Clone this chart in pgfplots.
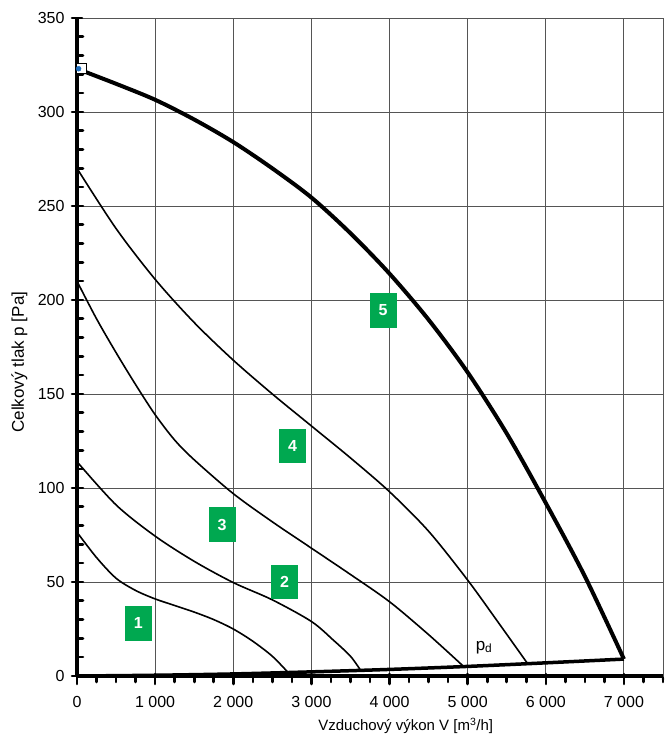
\documentclass[border=0pt]{standalone}
\usepackage{fontspec}
\setmainfont{Liberation Sans}
\usepackage{pgfplots}
\pgfplotsset{compat=1.18}
\definecolor{boxgreen}{RGB}{0,168,80}
\definecolor{gridgray}{RGB}{85,85,85}
\definecolor{markblue}{RGB}{30,110,190}
\tikzset{speedtag/.style={fill=boxgreen, text=white, font=\fontsize{16}{18}\selectfont\bfseries,
  minimum width=27pt, minimum height=34.5pt, inner sep=0pt}}

% fan characteristic, step 5 (full speed)
\pgfplotstableread{
V p
0 323
500 315
1000 306.5
1500 296
2000 284
2500 270
3000 254.5
3500 235.5
4000 214
4500 189.5
5000 161.5
5500 129
6000 92
6500 53
7000 9
}\curvefive

\pgfplotstableread{
V p
0 270
500 238
1000 211
1500 188
2000 168
2500 150
3000 133
3500 116
4000 98
4500 77
5000 51
5400 28
5760 7
}\curvefour

\pgfplotstableread{
V p
0 210
250 190
500 172
750 155
1000 139
1250 125.5
1500 115
2000 97
2500 82
3000 68
3500 54
4000 39.5
4500 22
4950 5
}\curvethree

\pgfplotstableread{
V p
0 114
500 91
1000 74.4
1500 61
2000 49.7
2500 40.5
3000 29
3283 19
3500 10.5
3630 3
}\curvetwo

\pgfplotstableread{
V p
0 76.5
250 63
500 52
750 45.5
1000 41
1250 37.5
1500 34
1750 30
2000 25
2250 18.5
2500 10.5
2710 1.5
}\curveone

% dynamic pressure
\pgfplotstableread{
V p
0 0
1000 0.4
2000 1.1
3000 2.2
4000 3.5
5000 5.1
6000 7
7000 9
}\dynpress

\begin{document}
\begin{tikzpicture}
\begin{axis}[
  scale only axis, width=586pt, height=658pt,
  xmin=0, xmax=7500, ymin=0, ymax=350,
  axis lines=left,
  x axis line style={-, line width=4pt},
  y axis line style={-, line width=4.5pt},
  xtick={0,1000,...,7000},
  minor xtick={250,500,...,7500},
  ytick={0,50,...,350},
  minor ytick={10,20,...,340},
  grid=major,
  major grid style={gridgray, line width=0.9pt},
  extra x ticks={7500}, extra x tick labels={},
  extra x tick style={grid=major, major tick length=0pt},
  tick align=center,
  major tick length=10pt, minor tick length=5pt,
  tick style={black, line width=2.6pt, line cap=round},
  minor y tick style={xshift=3.5pt},
  minor x tick style={yshift=-3.5pt},
  major x tick style={yshift=-3pt},
  /pgf/number format/assume math mode=true,
  /pgf/number format/1000 sep={\ },
  ticklabel style={font=\fontsize{16}{18}\selectfont},
  yticklabel style={xshift=-4pt},
  xticklabel style={yshift=-12pt},
  xlabel={Vzduchový výkon V [m\textsuperscript{3}/h]},
  ylabel={Celkový tlak p [Pa]},
  xlabel style={font=\fontsize{15}{17}\selectfont,
    at={(rel axis cs:0.561,0)}, anchor=center, yshift=-50pt},
  ylabel style={font=\fontsize{17}{19}\selectfont,
    at={(rel axis cs:0,0.477)}, anchor=center, yshift=57.5pt},
  clip=false,
]
% fan curves for speed steps 1-4
\addplot[black, line width=1.6pt, smooth] table {\curveone};
\addplot[black, line width=1.6pt, smooth] table {\curvetwo};
\addplot[black, line width=1.6pt, smooth] table {\curvethree};
\addplot[black, line width=1.6pt, smooth] table {\curvefour};
% full-speed curve
\addplot[black, line width=4pt, smooth] table {\curvefive};
% dynamic pressure line
\addplot[black, line width=3.5pt, smooth] table {\dynpress};
% operating point marker
\addplot[only marks, mark=square*, mark size=5pt,
  mark options={draw=black, fill=white, line width=1pt}] coordinates {(60,323)};
\addplot[only marks, mark=*, mark size=2.5pt,
  mark options={draw=markblue, fill=markblue}] coordinates {(20,323)};

% speed step tags
\node[speedtag] at (axis cs:786,28) {1};
\node[speedtag] at (axis cs:2656,50) {2};
\node[speedtag] at (axis cs:1856,80.5) {3};
\node[speedtag] at (axis cs:2760,122.4) {4};
\node[speedtag] at (axis cs:3917,194.4) {5};
\node[font=\fontsize{17}{19}\selectfont] at (axis cs:5210,15.2) {p\textsubscript{d}};
\end{axis}
\pgfresetboundingbox
\useasboundingbox (-77pt,-62pt) rectangle (588pt,676pt);
\end{tikzpicture}
\end{document}
